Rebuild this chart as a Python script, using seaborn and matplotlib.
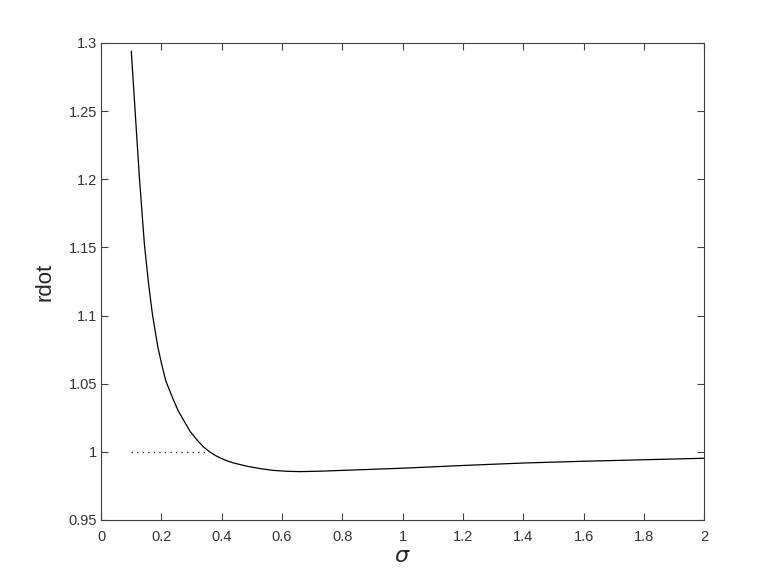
import numpy as np
import pandas as pd
import matplotlib
matplotlib.use('Agg')
import matplotlib.pyplot as plt
import seaborn as sns

# valores
sigma = [0.100, 0.113, 0.127, 0.1436, 0.157, 0.170, 0.188, 0.200, 0.2146,
         0.240, 0.256, 0.273, 0.295, 0.317, 0.340, 0.360, 0.380, 0.400,
         0.420, 0.440, 0.483, 0.530, 0.571, 0.620, 0.660, 0.726, 0.800,
         0.900, 1.000, 1.200, 1.400, 1.600, 1.800, 2.000]
rdot = [1.294, 1.249, 1.201, 1.152, 1.124, 1.101, 1.077, 1.065, 1.052,
        1.038, 1.030, 1.0234, 1.0150, 1.0090, 1.0035, 1.0000, 0.9972, 0.9950,
        0.9932, 0.9918, 0.9895, 0.9876, 0.9864, 0.9857, 0.9855, 0.9858, 0.9864,
        0.9872, 0.9880, 0.9900, 0.9918, 0.9931, 0.9942, 0.9953]

# linea punteada en rdot = 1
ref_sigma = [0.100, 0.355]
ref_rdot = [1.0, 1.0]

df = pd.DataFrame({'sigma': sigma, 'rdot': rdot})
df_ref = pd.DataFrame({'sigma': ref_sigma, 'rdot': ref_rdot})

sns.set_style('ticks')
plt.rcParams['font.family'] = ['Liberation Sans', 'DejaVu Sans']
plt.rcParams['mathtext.fontset'] = 'dejavusans'

fig = plt.figure(figsize=(7.78, 5.84), dpi=100)
ax = fig.add_axes([0.13, 0.1096, 0.775, 0.8168])

sns.lineplot(data=df, x='sigma', y='rdot', color='black', linewidth=0.9,
             ax=ax, estimator=None, sort=False)
sns.lineplot(data=df_ref, x='sigma', y='rdot', color='#333333', linewidth=1.0,
             linestyle=(0, (1, 3)), ax=ax, estimator=None, sort=False)

ax.set_xlim(0, 2)
ax.set_ylim(0.95, 1.3)
ax.set_xticks(np.arange(0, 2.01, 0.2))
ax.set_xticklabels(['0', '0.2', '0.4', '0.6', '0.8', '1', '1.2', '1.4',
                    '1.6', '1.8', '2'])
ax.set_yticks([0.95, 1.0, 1.05, 1.1, 1.15, 1.2, 1.25, 1.3])
ax.set_yticklabels(['0.95', '1', '1.05', '1.1', '1.15', '1.2', '1.25', '1.3'])

for s in ax.spines.values():
    s.set_visible(True)
    s.set_color('#404040')
    s.set_linewidth(0.8)
ax.tick_params(direction='in', length=5, width=0.8, color='#404040',
               labelsize=10.5, labelcolor='#333333', top=True, right=True)
ax.tick_params(axis='x', pad=7)
ax.tick_params(axis='y', pad=3)

ax.set_xlabel(r'$\sigma$', fontsize=16, labelpad=2)
ax.set_ylabel('rdot', fontsize=16, labelpad=9)

fig.savefig('out.png', dpi=100)
